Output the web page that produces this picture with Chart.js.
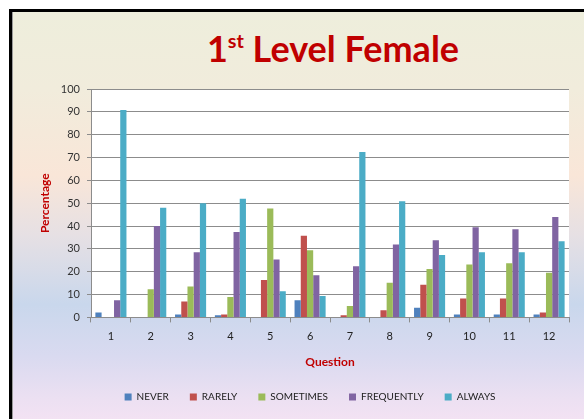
<!DOCTYPE html>
<html>
<head>
<meta charset="utf-8">
<script src="https://cdn.jsdelivr.net/npm/chart.js@4"></script>
<style>
  html, body { margin: 0; padding: 0; background: #fff; overflow: hidden; width: 584px; height: 419px; }
  #frame {
    position: absolute; left: 9px; top: 9px; width: 600px; height: 430px;
    border-left: 3px solid #000; border-top: 3px solid #000;
    box-shadow: inset 1px 0 0 #9a9a9a;
    background: linear-gradient(to bottom,
      #eeeedc 0%, #f1ecdc 18%, #f9e6d8 38%, #e6e0e4 52%, #c9d7ec 68%,
      #d9daf0 80%, #ece0f2 90%, #fae4f4 100%);
  }
  #title {
    position: absolute; left: 0; top: 30px; width: 666px; text-align: center;
    font: bold 36px Lato, sans-serif; line-height: 36px; color: #c00000;
  }
  #title sup { font-size: 0.55em; vertical-align: 0.7em; line-height: 0; }
  #wrap { position: absolute; left: 0; top: 0; width: 584px; height: 419px; }
</style>
</head>
<body>
<div id="frame"></div>
<div id="title">1<sup>st</sup> Level Female</div>
<div id="wrap"><canvas id="chart"></canvas></div>
<script>
const questions = ['1', '2', '3', '4', '5', '6', '7', '8', '9', '10', '11', '12'];
const never      = [2.2, 0, 1.3, 0.9, 0, 7.5, 0, 0, 4.2, 1.3, 1.3, 1.3];
const rarely     = [0, 0, 7, 1.3, 16.4, 35.8, 0.9, 3.1, 14.3, 8.3, 8.3, 2.2];
const sometimes  = [0, 12.3, 13.5, 8.9, 47.7, 29.4, 5, 15.2, 21.2, 23.2, 23.7, 19.6];
const frequently = [7.5, 40, 28.5, 37.4, 25.3, 18.4, 22.4, 31.9, 33.8, 39.5, 38.6, 44];
const always     = [90.8, 48, 50, 52, 11.4, 9.4, 72.4, 50.9, 27.3, 28.5, 28.5, 33.3];
const y_ticks = { min: 0, max: 100, step: 10 };

const gridColor = '#8c8c8c';
const red = '#c00000';

// white plot area behind the bars
const plotBg = {
  id: 'plotBg',
  beforeDraw(chart) {
    const a = chart.chartArea, ctx = chart.ctx;
    ctx.save();
    ctx.fillStyle = '#ffffff';
    ctx.fillRect(a.left, a.top, a.right - a.left, a.bottom - a.top);
    ctx.restore();
  }
};

function series(label, data, color) {
  return { label: label, data: data, backgroundColor: color, borderWidth: 0,
           barPercentage: 1, categoryPercentage: 0.78 };
}

new Chart(document.getElementById('chart'), {
  type: 'bar',
  data: {
    labels: questions,
    datasets: [
      series('NEVER', never, '#4f81bd'),
      series('RARELY', rarely, '#c0504d'),
      series('SOMETIMES', sometimes, '#9bbb59'),
      series('FREQUENTLY', frequently, '#8064a2'),
      series('ALWAYS', always, '#4bacc6')
    ]
  },
  plugins: [plotBg],
  options: {
    responsive: true,
    maintainAspectRatio: false,
    animation: false,
    layout: { padding: { left: 51, right: 15, top: 89, bottom: 7 } },
    plugins: {
      title: { display: false },
      tooltip: { enabled: false },
      legend: {
        position: 'bottom',
        labels: {
          boxWidth: 7, boxHeight: 7, padding: 21, color: '#222',
          font: { family: 'Lato', size: 10 }
        }
      }
    },
    scales: {
      x: {
        grid: { display: true, drawOnChartArea: false, drawTicks: true, tickLength: 5, color: gridColor },
        border: { color: gridColor },
        ticks: { color: '#222', padding: 7, font: { family: 'Lato', size: 11 } },
        title: {
          display: true, text: 'Question', color: red,
          font: { family: 'Lato', size: 12, weight: 'bold' },
          padding: { top: 5, bottom: 2 }
        }
      },
      y: {
        min: y_ticks.min, max: y_ticks.max,
        afterFit(scale) { scale.width = 40; },
        grid: { color: gridColor, tickLength: 4 },
        border: { color: gridColor },
        ticks: { stepSize: y_ticks.step, color: '#333', padding: 7, font: { family: 'Lato', size: 11 } },
        title: {
          display: true, text: 'Percentage', color: red,
          font: { family: 'Lato', size: 12, weight: 'bold' },
          padding: { top: -13, bottom: 0 }
        }
      }
    }
  }
});
</script>
</body>
</html>
